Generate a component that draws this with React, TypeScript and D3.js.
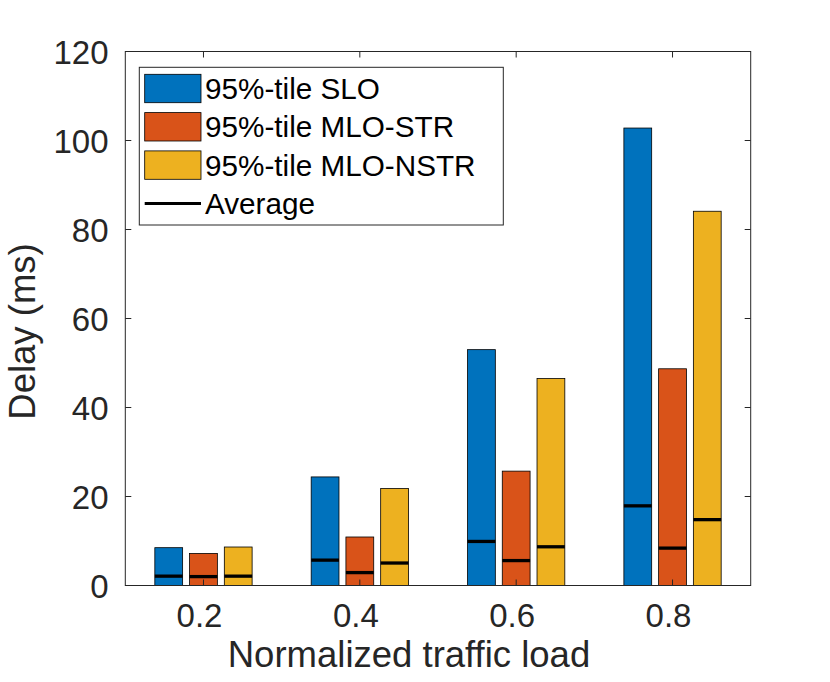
import React from "react";
import * as d3 from "d3";

const loads = [0.2, 0.4, 0.6, 0.8];
const seriesNames = ["95%-tile SLO", "95%-tile MLO-STR", "95%-tile MLO-NSTR"];
const seriesColors = ["#0072BD", "#D95319", "#EDB120"];
const p95Slo = [8.5, 24.4, 53.0, 102.8];
const p95Str = [7.2, 10.9, 25.7, 48.7];
const p95Nstr = [8.65, 21.8, 46.5, 84.1];
const avgSlo = [2.1, 5.7, 9.9, 17.9];
const avgStr = [2.0, 2.9, 5.6, 8.4];
const avgNstr = [2.1, 5.05, 8.7, 14.8];
const yTicks = [0, 20, 40, 60, 80, 100, 120];

const W = 830;
const H = 682;
const left = 125.3;
const right = 750.7;
const top = 51.5;
const bottom = 585.5;
const font = "'Liberation Sans', Arial, Helvetica, sans-serif";
const axisColor = "#262626";

export default function App() {
  const x = d3.scaleLinear().domain([0.1, 0.9]).range([left, right]);
  const y = d3.scaleLinear().domain([0, 120]).range([bottom, top]);

  const p95 = [p95Slo, p95Str, p95Nstr];
  const avg = [avgSlo, avgStr, avgNstr];
  const spacing = x(0.4) - x(0.2);
  const slot = (spacing * (3 / 4.5)) / 3;
  const barW = slot * 0.8;
  const tickLen = 6;

  const legend = { x: 139.3, y: 67.3, w: 364, h: 157.7, row: 38.3 };

  return (
    <svg
      width={W}
      height={H}
      style={{ position: "absolute", left: 0, top: 0, background: "#fff" }}
      fontFamily={font}
    >
      <rect x={0} y={0} width={W} height={H} fill="#fff" />
      {/* bars */}
      {loads.map((load, gi) => (
        <g key={load}>
          {p95.map((vals, si) => {
            const cx = x(load) + (si - 1) * slot;
            return (
              <g key={si}>
                <rect
                  x={cx - barW / 2}
                  y={y(vals[gi])}
                  width={barW}
                  height={y(0) - y(vals[gi])}
                  fill={seriesColors[si]}
                  stroke="#000"
                  strokeWidth={0.8}
                />
                <line
                  x1={cx - barW / 2}
                  x2={cx + barW / 2}
                  y1={y(avg[si][gi])}
                  y2={y(avg[si][gi])}
                  stroke="#000"
                  strokeWidth={3.3}
                />
              </g>
            );
          })}
        </g>
      ))}
      {/* axes box */}
      <rect
        x={left}
        y={top}
        width={right - left}
        height={bottom - top}
        fill="none"
        stroke={axisColor}
        strokeWidth={1}
      />
      {loads.map((load) => (
        <g key={"xt" + load}>
          <line x1={x(load)} x2={x(load)} y1={bottom} y2={bottom - tickLen} stroke={axisColor} />
          <line x1={x(load)} x2={x(load)} y1={top} y2={top + tickLen} stroke={axisColor} />
          <text
            x={x(load) - 4}
            y={627}
            textAnchor="middle"
            fontSize={33}
            fill={axisColor}
          >
            {load.toFixed(1)}
          </text>
        </g>
      ))}
      {yTicks.map((t) => (
        <g key={"yt" + t}>
          <line x1={left} x2={left + tickLen} y1={y(t)} y2={y(t)} stroke={axisColor} />
          <line x1={right} x2={right - tickLen} y1={y(t)} y2={y(t)} stroke={axisColor} />
          <text
            x={108.5}
            y={y(t) + 12}
            textAnchor="end"
            fontSize={33}
            fill={axisColor}
          >
            {t}
          </text>
        </g>
      ))}
      <text
        x={409}
        y={667}
        textAnchor="middle"
        fontSize={36.5}
        fill={axisColor}
      >
        Normalized traffic load
      </text>
      <text
        transform={`translate(35, 331.5) rotate(-90)`}
        textAnchor="middle"
        fontSize={36.5}
        fill={axisColor}
      >
        Delay (ms)
      </text>
      {/* legend */}
      <rect
        x={legend.x}
        y={legend.y}
        width={legend.w}
        height={legend.h}
        fill="#fff"
        stroke={axisColor}
        strokeWidth={1}
      />
      {seriesNames.map((name, i) => {
        const cy = 88.5 + i * legend.row;
        return (
          <g key={name}>
            <rect
              x={144.7}
              y={cy - 14.2}
              width={56.3}
              height={28.4}
              fill={seriesColors[i]}
              stroke="#000"
              strokeWidth={0.8}
            />
            <text x={205} y={cy + 10.5} fontSize={29.7} fill="#000">
              {name}
            </text>
          </g>
        );
      })}
      <line
        x1={144.7}
        x2={201}
        y1={88.5 + 3 * legend.row}
        y2={88.5 + 3 * legend.row}
        stroke="#000"
        strokeWidth={3}
      />
      <text x={205} y={88.5 + 3 * legend.row + 10.5} fontSize={29.7} fill="#000">
        Average
      </text>
    </svg>
  );
}
